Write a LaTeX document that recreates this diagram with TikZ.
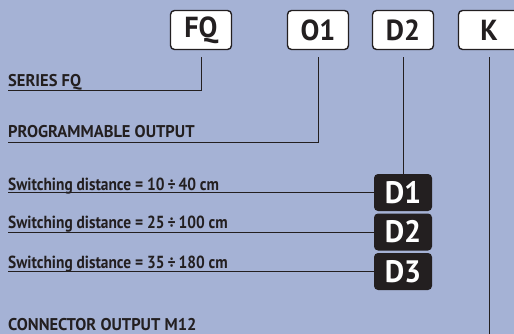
\documentclass[tikz,border=0pt]{standalone}
\usepackage{fontspec}
\setmainfont{PT Sans}[FakeStretch=0.88]
\newfontfamily\capsfont{PT Sans}[FakeStretch=0.97]
\usetikzlibrary{positioning,calc}

\definecolor{codeink}{HTML}{231F20}
\definecolor{sheetblue}{HTML}{A5B2D5}

\begin{document}
\begin{tikzpicture}[
    x=1pt, y=-1pt,
    codebox/.style={
      draw=codeink, fill=white, rounded corners=4pt, line width=1.4pt,
      minimum width=61pt, minimum height=39pt, inner sep=0pt,
      font=\capsfont\fontsize{29}{29}\selectfont\bfseries, text=codeink
    },
    rangebox/.style={
      fill=codeink, rounded corners=4pt,
      minimum width=58pt, minimum height=37pt, inner sep=0pt,
      font=\capsfont\fontsize{31}{31}\selectfont\bfseries, text=white
    },
    caption/.style={anchor=base west, inner sep=0pt,
      font=\fontsize{17.5}{17.5}\selectfont\bfseries, text=codeink},
    capcaption/.style={caption,
      font=\capsfont\fontsize{17}{17}\selectfont\bfseries},
    leader/.style={draw=codeink, line width=0.9pt},
  ]

  %% ---- sheet ----
  \useasboundingbox (0,0) rectangle (514,334);
  \clip (0,0) rectangle (514,334);
  \fill[sheetblue] (0,0) rectangle (514,334);

  %% ---- order code boxes ----
  \node[codebox] (fq) at (201,30)   {FQ};
  \node[codebox] (o1) at (318,30)   {O1};
  \node[codebox] (d2) at (403,30)   {D2};
  \node[codebox] (k)  at (489,30)   {K};

  %% ---- captions (underline starts) ----
  \node[capcaption] (series) at (8,87)   {SERIES FQ};
  \node[capcaption] (prog)   at (8,138)  {PROGRAMMABLE OUTPUT};
  \node[caption] (sw1)    at (8,190)  {Switching distance = 10\,÷\,40 cm};
  \node[caption] (sw2)    at (8,228)  {Switching distance = 25\,÷\,100 cm};
  \node[caption] (sw3)    at (8,268)  {Switching distance = 35\,÷\,180 cm};
  \node[capcaption] (conn)   at (8,330)  {CONNECTOR OUTPUT M12};

  \coordinate (seriesend) at (8,90);
  \coordinate (progend)   at (8,142);

  %% ---- range boxes ----
  \node[rangebox] (r1) at (403,192.5) {D1};
  \node[rangebox] (r2) at (403,232)   {D2};
  \node[rangebox] (r3) at (403,271.5) {D3};

  %% ---- leaders ----
  \draw[leader] ([yshift=-7pt]fq.south) |- (seriesend);
  \draw[leader] ([yshift=-7pt]o1.south) |- (progend);
  \draw[leader] ([yshift=-7pt]d2.south) -- (r1.north);
  \draw[leader] (r1.west) -- (r1.west -| sw1.west);
  \draw[leader] (r2.west) -- (r2.west -| sw2.west);
  \draw[leader] (r3.west) -- (r3.west -| sw3.west);
  \coordinate (kend) at (k |- conn.south);
  \draw[leader] ([yshift=-7pt]k.south) -- ([yshift=-10pt]kend);

\end{tikzpicture}
\end{document}
